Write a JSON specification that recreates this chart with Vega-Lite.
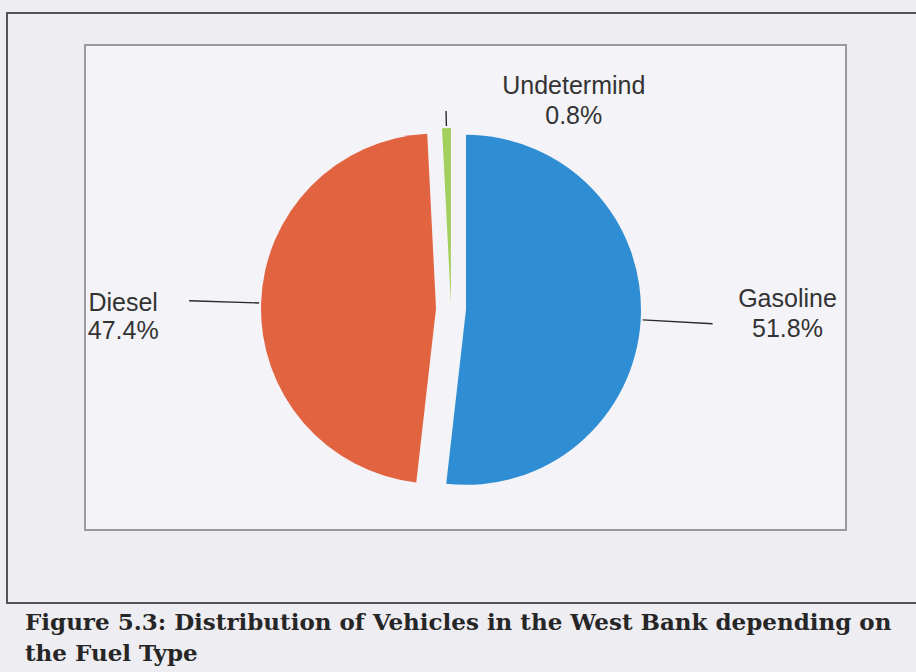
{
  "$schema": "https://vega.github.io/schema/vega-lite/v6.json",
  "width": 912,
  "height": 590,
  "autosize": "none",
  "padding": {"left": 7, "top": 13, "right": 0, "bottom": 69},
  "background": "#eeedf2",
  "config": {
    "view": {"stroke": null},
    "font": "Liberation Sans"
  },
  "title": {
    "text": ["Figure 5.3: Distribution of Vehicles in the West Bank depending on", "the Fuel Type"],
    "orient": "bottom",
    "anchor": "start",
    "frame": "group",
    "font": "DejaVu Serif",
    "fontSize": 23,
    "fontWeight": "bold",
    "color": "#262626",
    "baseline": "top",
    "offset": 8,
    "dx": 18,
    "lineHeight": 31
  },
  "data": {
    "values": [
      {"fuel": "Gasoline", "value": 51.8},
      {"fuel": "Diesel", "value": 47.4},
      {"fuel": "Undetermind", "value": 0.8}
    ]
  },
  "transform": [
    {"stack": "value", "groupby": [], "as": ["start", "end"]},
    {"calculate": "(datum.start + datum.end) / 2", "as": "mid"},
    {"calculate": "datum.fuel + '\\n' + format(datum.value, '.1f') + '%'", "as": "label"}
  ],
  "layer": [
    {
      "transform": [{"aggregate": [{"op": "count", "as": "n"}]}],
      "mark": {"type": "rect", "fill": null, "stroke": "#555555", "strokeWidth": 2},
      "encoding": {}
    },
    {
      "transform": [{"aggregate": [{"op": "count", "as": "n"}]}],
      "mark": {
        "type": "rect",
        "fill": "#f4f3f7",
        "stroke": "#9a9a9e",
        "strokeWidth": 2,
        "x": {"expr": "width - 73"},
        "x2": 78,
        "y": 32,
        "y2": {"expr": "height - 73"}
      },
      "encoding": {}
    },
    {
      "mark": {
        "type": "arc",
        "outerRadius": 175,
        "xOffset": {"expr": "-12 + (datum.fuel === 'Undetermind' ? 6 : 15) * sin(datum.mid * PI / 50)"},
        "yOffset": {"expr": "1 - (datum.fuel === 'Undetermind' ? 6 : 15) * cos(datum.mid * PI / 50)"}
      },
      "encoding": {
        "theta": {"field": "start", "type": "quantitative", "scale": {"domain": [0, 100]}},
        "theta2": {"field": "end"},
        "color": {
          "field": "fuel",
          "type": "nominal",
          "scale": {"domain": ["Gasoline", "Diesel", "Undetermind"], "range": ["#2f8dd3", "#e2633f", "#a3cf5c"]},
          "legend": null
        }
      }
    },
    {
      "mark": {
        "type": "arc",
        "filled": false,
        "stroke": "#2a2a2a",
        "strokeWidth": 1.4,
        "innerRadius": 177,
        "outerRadius": {"expr": "datum.fuel === 'Undetermind' ? 192 : 247"},
        "xOffset": {"expr": "-12 + (datum.fuel === 'Undetermind' ? 6 : 15) * sin(datum.mid * PI / 50)"},
        "yOffset": {"expr": "1 - (datum.fuel === 'Undetermind' ? 6 : 15) * cos(datum.mid * PI / 50)"}
      },
      "encoding": {
        "theta": {"field": "mid", "type": "quantitative"},
        "theta2": {"field": "mid"}
      }
    },
    {
      "transform": [{"filter": "datum.fuel === 'Diesel'"}],
      "mark": {"type": "text", "radius": 328, "xOffset": -12, "yOffset": 1, "dy": 4, "align": "center", "baseline": "middle", "fontSize": 25, "lineHeight": 28, "color": "#333333", "lineBreak": "\n"},
      "encoding": {
        "theta": {"field": "mid", "type": "quantitative"},
        "text": {"field": "label"}
      }
    },
    {
      "transform": [{"filter": "datum.fuel === 'Gasoline'"}],
      "mark": {"type": "text", "radius": 337, "xOffset": -12, "yOffset": 1, "dy": -29, "align": "center", "baseline": "middle", "fontSize": 25, "lineHeight": 30, "color": "#333333", "lineBreak": "\n"},
      "encoding": {
        "theta": {"field": "mid", "type": "quantitative"},
        "text": {"field": "label"}
      }
    },
    {
      "transform": [{"filter": "datum.fuel === 'Undetermind'"}],
      "mark": {"type": "text", "radius": 209, "xOffset": -12, "yOffset": 1, "dx": 128, "dy": -14, "align": "center", "baseline": "middle", "fontSize": 25, "lineHeight": 30, "color": "#333333", "lineBreak": "\n"},
      "encoding": {
        "theta": {"field": "mid", "type": "quantitative"},
        "text": {"field": "label"}
      }
    }
  ]
}
